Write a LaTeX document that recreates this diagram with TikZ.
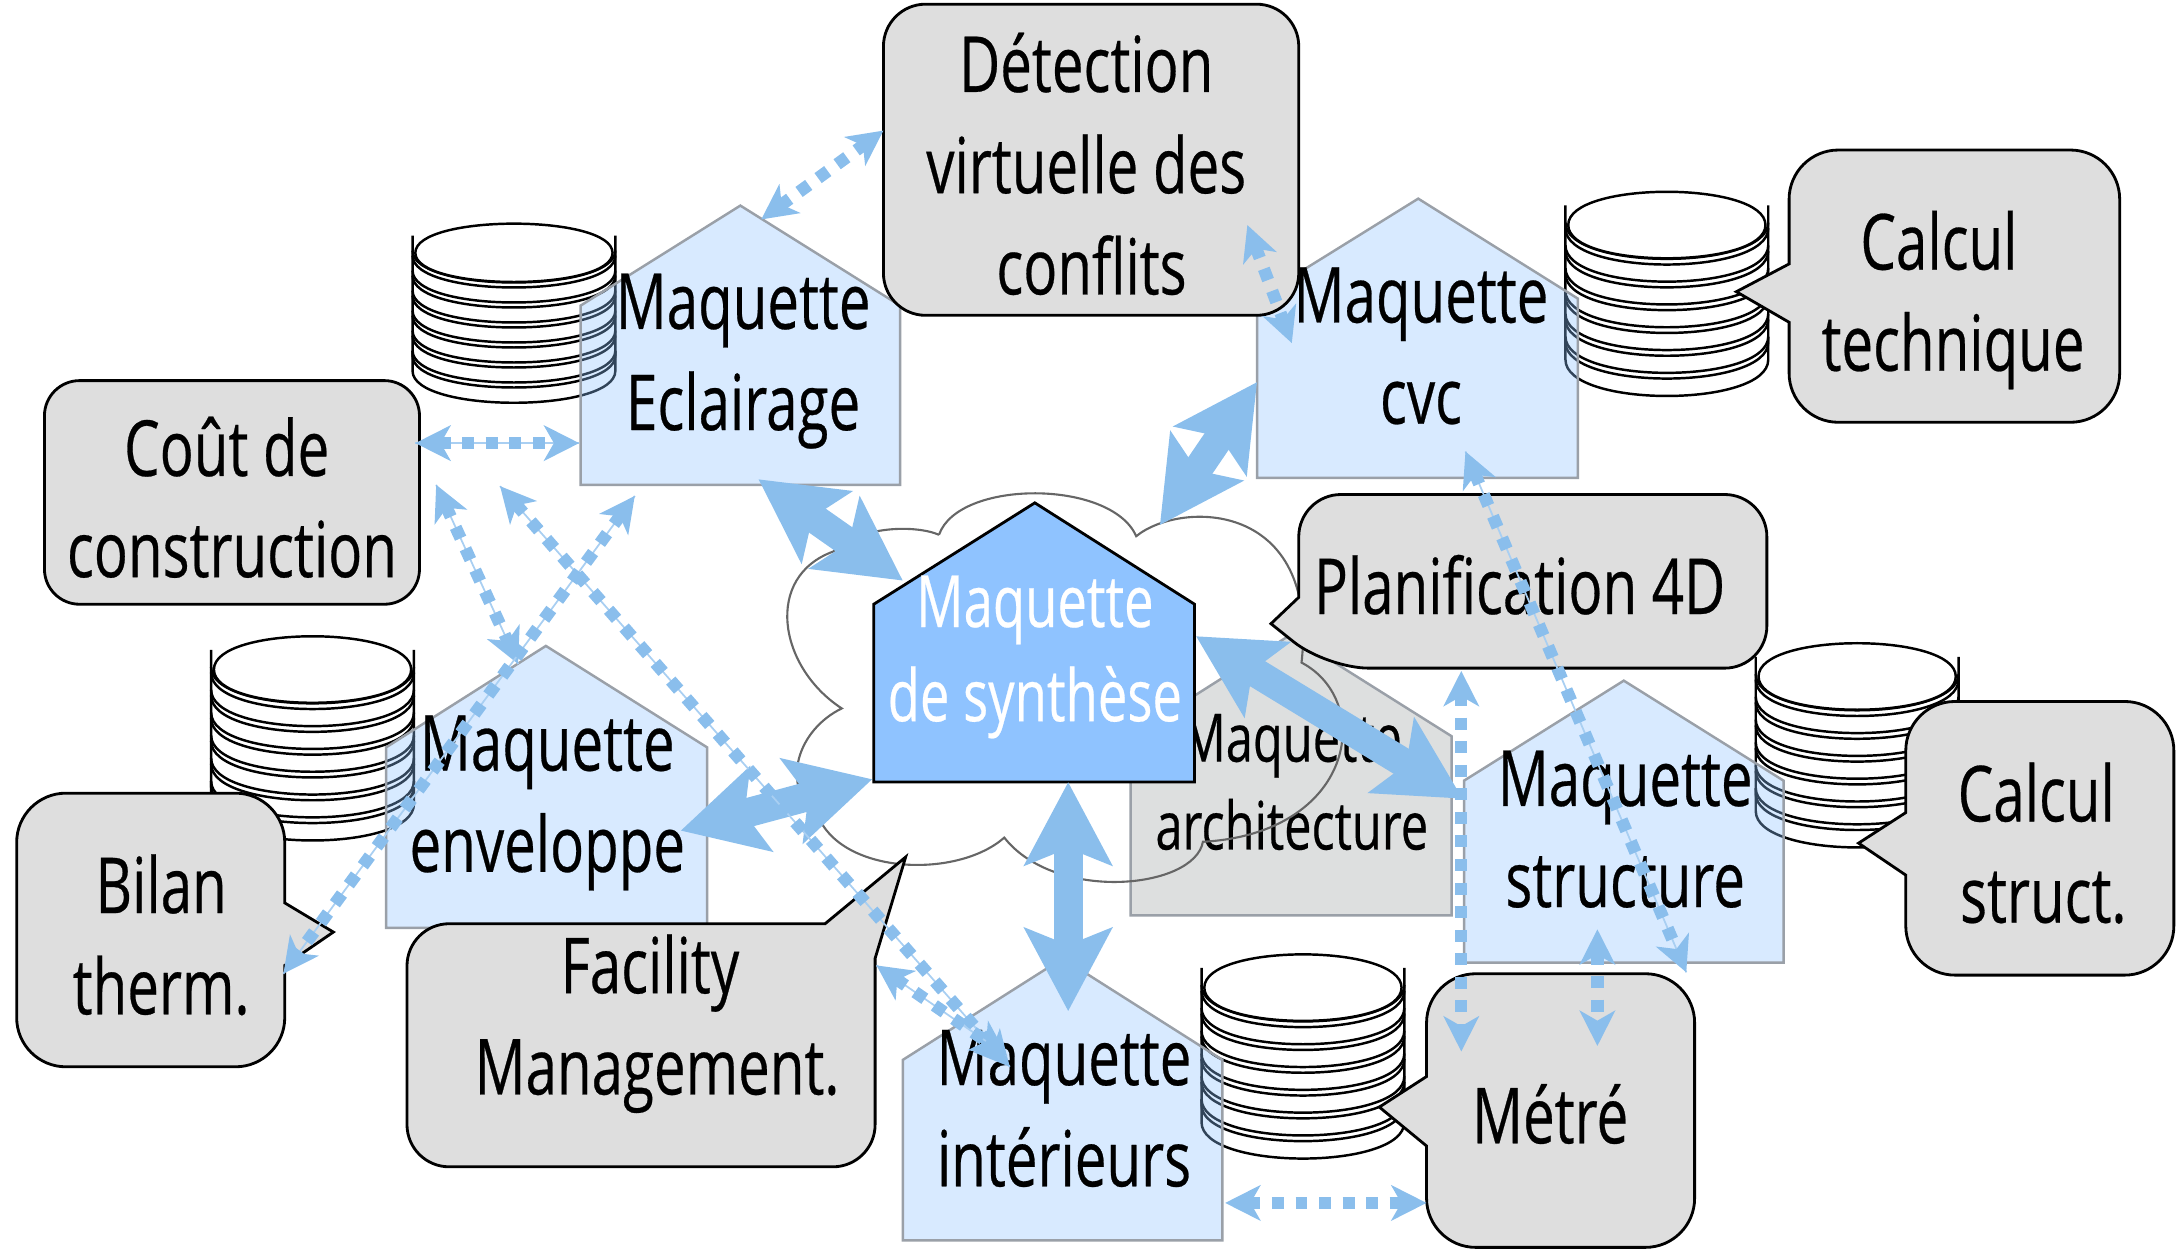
\documentclass[tikz,border=0pt]{standalone}
\usepackage{fontspec}
\setmainfont[FakeStretch=0.73,FakeBold=0.35]{Open Sans}
\usetikzlibrary{arrows.meta}
\definecolor{bleuFleche}{HTML}{8ABEEC}
\definecolor{bleuTrait}{HTML}{A9CFF2}
\definecolor{bleuMaison}{HTML}{8FC3FF}
\definecolor{grisBulle}{HTML}{DEDEDE}
\definecolor{grisArchi}{HTML}{DDDFDF}
\definecolor{grisBord}{HTML}{9AA0A8}
\tikzset{
 maquette/.style={draw=grisBord,line width=.7pt,fill=bleuMaison,fill opacity=.35},
 archi/.style={draw=grisBord,line width=.7pt,fill=grisArchi},
 synthese/.style={draw=black,line width=.8pt,fill=bleuMaison},
 bulle/.style={draw=black,line width=.8pt,fill=grisBulle},
 texte/.style={font=\fontsize{22}{28.8}\selectfont,align=center,inner sep=0pt},
 large/.style={<->,>={Stealth[length=23.5pt,width=24.5pt,inset=4.7pt]},draw=bleuFleche,line width=8.3pt},
 fin/.style={<->,>={Stealth[length=10pt,width=10pt,inset=2.8pt]},draw=bleuFleche,line width=3.5pt,
  dash pattern=on 3.4pt off 3.3pt},
 fintrait/.style={fin,preaction={draw=bleuTrait,line width=.5pt,solid,-}},
}
% style, gauche, faitage, droite, y faitage, y egout, y bas
\newcommand{\maison}[7]{\draw[#1] (#2,#7) -- (#2,#6) -- (#3,#5) -- (#4,#6) -- (#4,#7) -- cycle;}
\newcommand{\disque}[1]{\path[draw=black,line width=.7pt,fill=white] (-73,#1-14.4) -- (-73,#1)
 .. controls (-73,#1+30.6) and (73,#1+30.6) .. (73,#1) -- (73,#1-14.4);}
\newcommand{\base}[3]{
 \begin{scope}[shift={(#1,#2)},yscale=#3]
  \disque{85}
  \foreach \k in {5,...,0} {
   \pgfmathsetmacro{\yy}{2+14.4*\k}
   \disque{\yy}
   \draw[line width=.7pt] (-73,\yy-3.6) .. controls (-73,\yy+27) and (73,\yy+27) .. (73,\yy-3.6);
  }
  \draw[line width=.7pt,fill=white] (-71,0) .. controls (-71,-28) and (71,-28) .. (71,0)
   .. controls (71,28) and (-71,28) .. (-71,0) -- cycle;
 \end{scope}
}
\begin{document}
\begin{tikzpicture}[x=.1389mm,y=-.1389mm]
 \useasboundingbox (0,0) rectangle (1568,901);

 \base{370}{182}{1}
 \base{1200}{162}{1.14}
 \base{225}{482}{1.14}
 \base{1337}{487}{1.14}
 \base{938}{711}{1.14}

 \maison{archi}{814}{929}{1045}{457}{530}{659}
 \node[texte,font=\fontsize{19}{25}\selectfont] (Archi) at (930,563) {Maquette\\architecture};

 \draw[draw=black!60,line width=.6pt] (676,385) .. controls (690,345) and (800,345) .. (818,386)
  .. controls (850,360) and (950,360) .. (937,477)
  .. controls (990,505) and (975,600) .. (866,606)
  .. controls (860,640) and (760,650) .. (723,603)
  .. controls (690,632) and (610,630) .. (590,590)
  .. controls (560,565) and (575,525) .. (606,510)
  .. controls (560,480) and (550,415) .. (600,397)
  .. controls (620,378) and (660,378) .. (676,385);

 \maison{maquette}{418}{533}{648}{148}{220}{349}
 \maison{maquette}{905}{1021}{1136}{143}{215}{344}
 \maison{maquette}{1054}{1169}{1284}{490}{562}{693}
 \maison{maquette}{278}{393}{509}{465}{538}{668}
 \maison{maquette}{650}{765}{880}{690}{763}{893}
 \maison{synthese}{629}{745}{860}{362}{435}{563}

 \draw[bulle,rounded corners=12pt] (780,3) -- (935,3) -- (935,227) -- (636,227) -- (636,3) -- cycle;
 \draw[bulle,rounded corners=10pt] (160,274) -- (302,274) -- (302,435) -- (32,435) -- (32,274) -- cycle;
 \draw[bulle] (1400,108) [rounded corners=14pt] -- (1526,108) -- (1526,304) -- (1288,304) [sharp corners] -- (1288,232) -- (1250,210) -- (1288,190) [rounded corners=14pt] -- (1288,108) -- cycle;
 \draw[bulle] (1100,356) [rounded corners=12pt] -- (1272,356) -- (1272,481) -- (955,481) [sharp corners] -- (915,449) -- (935,430) [rounded corners=12pt] -- (935,356) -- cycle;
 \draw[bulle] (1460,505) [rounded corners=14pt] -- (1565,505) -- (1565,702) -- (1372,702) [sharp corners] -- (1372,630) -- (1338,607) -- (1372,585) [rounded corners=14pt] -- (1372,505) -- cycle;
 \draw[bulle] (100,571) [rounded corners=14pt] -- (205,571) [sharp corners] -- (205,650) -- (240,671) -- (205,695) [rounded corners=14pt] -- (205,768) -- (12,768) -- (12,571) -- cycle;
 \draw[bulle] (450,665) [sharp corners] -- (594,665) -- (652,617) -- (630,690) [rounded corners=12pt] -- (630,840) -- (293,840) -- (293,665) -- cycle;
 \draw[bulle] (1120,701) [rounded corners=14pt] -- (1220,701) -- (1220,898) -- (1027,898) [sharp corners] -- (1027,825) -- (993,797) -- (1027,775) [rounded corners=14pt] -- (1027,701) -- cycle;

 \node[texte] (Ecl) at (535,260) {Maquette\\Eclairage};
 \node[texte] (Cvc) at (1023,249) {Maquette\\cvc};
 \node[texte] (Str) at (1170,597) {Maquette\\structure};
 \node[texte] (Env) at (394,578) {Maquette\\enveloppe};
 \node[texte] (Int) at (766,798) {Maquette\\intérieurs};
 \node[texte,text=white,font=\fontsize{20.5}{26.8}\selectfont] (Syn) at (745,473) {Maquette\\de synthèse};
 \node[texte] (Det) at (782,118) {Détection\\virtuelle des\\\hspace*{3pt}conflits};
 \node[texte] (Cou) at (167,358) {Coût de\hspace*{3pt}\\construction};
 \node[texte] (Tec) at (1406,216) {Calcul\hspace*{8pt}\\technique};
 \node[texte] (Pla) at (1094,421) {Planification 4D};
 \node[texte] (Stc) at (1471,607) {Calcul\hspace*{4pt}\\struct.};
 \node[texte] (Bil) at (116,673) {Bilan\\therm.};
 \node[texte] (Fac) at (473,737) {Facility\hspace*{4pt}\\Management.};
 \node[texte] (Met) at (1116,802) {Métré};

 \coordinate (eclDet) at (548,158);
 \coordinate (detEcl) at (636,94);
 \coordinate (couEcl) at (299,319);
 \coordinate (eclCou) at (417,319);
 \coordinate (detCvc) at (898,162);
 \coordinate (cvcDet) at (930,247);
 \coordinate (couEnv) at (314,349);
 \coordinate (envCou) at (373,478);
 \coordinate (couInt) at (360,350);
 \coordinate (intCou) at (727,768);
 \coordinate (eclBil) at (457,357);
 \coordinate (bilEcl) at (204,701);
 \coordinate (cvcStr) at (1055,325);
 \coordinate (strCvc) at (1214,700);
 \coordinate (plaMet) at (1052,483);
 \coordinate (metPla) at (1052,757);
 \coordinate (strMet) at (1150,669);
 \coordinate (metStr) at (1150,753);
 \coordinate (intMet) at (882,866);
 \coordinate (metInt) at (1027,866);
 \coordinate (facInt) at (631,695);
 \coordinate (intFac) at (725,760);

 \coordinate (eclSyn) at (546,345);
 \coordinate (synEcl) at (650,418);
 \coordinate (cvcSyn) at (905,275);
 \coordinate (synCvc) at (835,378);
 \coordinate (synStr) at (861,458);
 \coordinate (strSyn) at (1053,575);
 \coordinate (synEnv) at (628,561);
 \coordinate (envSyn) at (490,598);
 \coordinate (synInt) at (769,563);
 \coordinate (intSyn) at (769,728);

 \draw[large] (eclSyn) -- (synEcl);
 \draw[large] (cvcSyn) -- (synCvc);
 \draw[large] (synStr) -- (strSyn);
 \draw[large] (synEnv) -- (envSyn);
 \draw[large] (synInt) -- (intSyn);

 \draw[fin] (eclDet) -- (detEcl);
 \draw[fintrait] (couEcl) -- (eclCou);
 \draw[fin] (detCvc) -- (cvcDet);
 \draw[fintrait] (couEnv) -- (envCou);
 \draw[fintrait] (couInt) -- (intCou);
 \draw[fintrait] (eclBil) -- (bilEcl);
 \draw[fintrait] (cvcStr) -- (strCvc);
 \draw[fin] (plaMet) -- (metPla);
 \draw[fin] (strMet) -- (metStr);
 \draw[fin] (intMet) -- (metInt);
 \draw[fintrait] (facInt) -- (intFac);
\end{tikzpicture}
\end{document}
